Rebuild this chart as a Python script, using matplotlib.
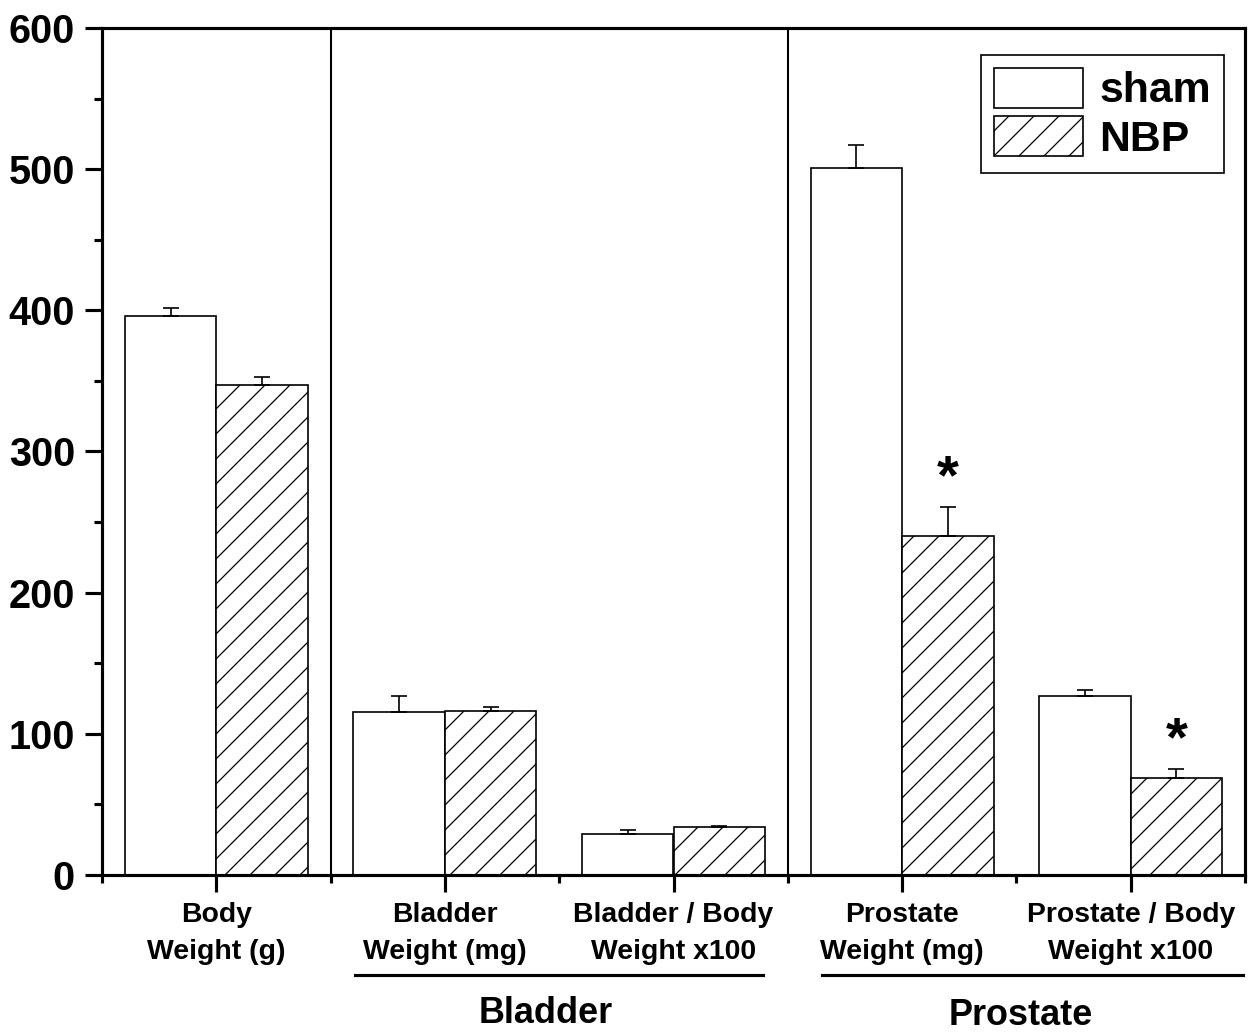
import matplotlib
matplotlib.use("Agg")
import matplotlib.pyplot as plt
import numpy as np
from matplotlib.patches import Patch
from matplotlib.lines import Line2D

plt.rcParams['font.family'] = ['Liberation Sans', 'DejaVu Sans']
plt.rcParams['font.weight'] = 'bold'
plt.rcParams['hatch.linewidth'] = 0.6

categories = ["Body\nWeight (g)", "Bladder\nWeight (mg)", "Bladder / Body\nWeight x100",
              "Prostate\nWeight (mg)", "Prostate / Body\nWeight x100"]
sham = [396, 115.5, 29, 501, 127]
sham_err = [6, 11, 3, 16, 4]
nbp = [347, 116, 34, 240, 69]
nbp_err = [6, 3, 1, 21, 6]
groups = ["Bladder", "Prostate"]
significant = [False, False, False, True, True]
yticks = [0, 100, 200, 300, 400, 500, 600]

fig = plt.figure(figsize=(1255/150, 1033/150), dpi=150)
ax = fig.add_axes([102/1255, 1-875/1033, 1143/1255, 847/1033])

x = np.arange(len(categories)) + 0.5
w = 0.4
ax.bar(x - w/2, sham, w, color='white', edgecolor='black', linewidth=0.8,
       yerr=[np.zeros(len(sham)), sham_err], capsize=4,
       error_kw=dict(elinewidth=0.8, capthick=0.8, ecolor='black'), label='sham', zorder=2)
ax.bar(x + w/2, nbp, w, color='white', edgecolor='black', linewidth=0.8, hatch='//',
       yerr=[np.zeros(len(nbp)), nbp_err], capsize=4,
       error_kw=dict(elinewidth=0.8, capthick=0.8, ecolor='black'), label='NBP', zorder=2)

for i, s in enumerate(significant):
    if s:
        ax.text(x[i] + w/2, nbp[i] + nbp_err[i] + 1, '*', ha='center', va='bottom',
                fontsize=27, fontweight='bold')

ax.set_xlim(0, 5)
ax.set_ylim(0, 600)
ax.set_yticks(yticks)
ax.set_yticklabels([str(t) for t in yticks], fontsize=19, fontweight='bold')
ax.set_yticks(np.arange(50, 600, 100), minor=True)
ax.set_xticks(x)
ax.set_xticklabels(categories, fontsize=13.6, fontweight='bold', linespacing=1.55)
ax.set_xticks(np.arange(0, 6), minor=True)
ax.tick_params(axis='both', which='major', direction='out', length=8, width=1.5)
ax.tick_params(axis='both', which='minor', direction='out', length=4, width=1.5)
ax.tick_params(axis='x', which='major', pad=5)
ax.tick_params(axis='y', which='major', pad=5)
for sp in ax.spines.values():
    sp.set_linewidth(1.5)

for xv in [1, 3]:
    ax.axvline(xv, color='black', linewidth=1.0, zorder=3)

# group underline and labels
trans = ax.get_xaxis_transform()
ax.add_line(Line2D([1.107, 2.89], [-0.118, -0.118], transform=trans, color='black',
                   linewidth=1.5, clip_on=False))
ax.add_line(Line2D([3.15, 4.99], [-0.118, -0.118], transform=trans, color='black',
                   linewidth=1.5, clip_on=False))
ax.text(1.94, -0.163, groups[0], transform=trans, ha='center', va='center',
        fontsize=17.3, fontweight='bold')
ax.text(4.02, -0.166, groups[1], transform=trans, ha='center', va='center',
        fontsize=17.3, fontweight='bold')

handles = [Patch(facecolor='white', edgecolor='black', linewidth=0.8, label='sham'),
           Patch(facecolor='white', edgecolor='black', linewidth=0.8, hatch='//', label='NBP')]
leg = ax.legend(handles=handles, loc='upper right', bbox_to_anchor=(0.9816, 0.968),
                borderaxespad=0, fancybox=False, edgecolor='black', framealpha=1,
                prop={'size': 20.5, 'weight': 'bold'}, handlelength=2.1, handleheight=1.05,
                handletextpad=0.38, labelspacing=0.12, borderpad=0.3)
leg.get_frame().set_linewidth(0.8)

fig.savefig('out.png', dpi=150)
